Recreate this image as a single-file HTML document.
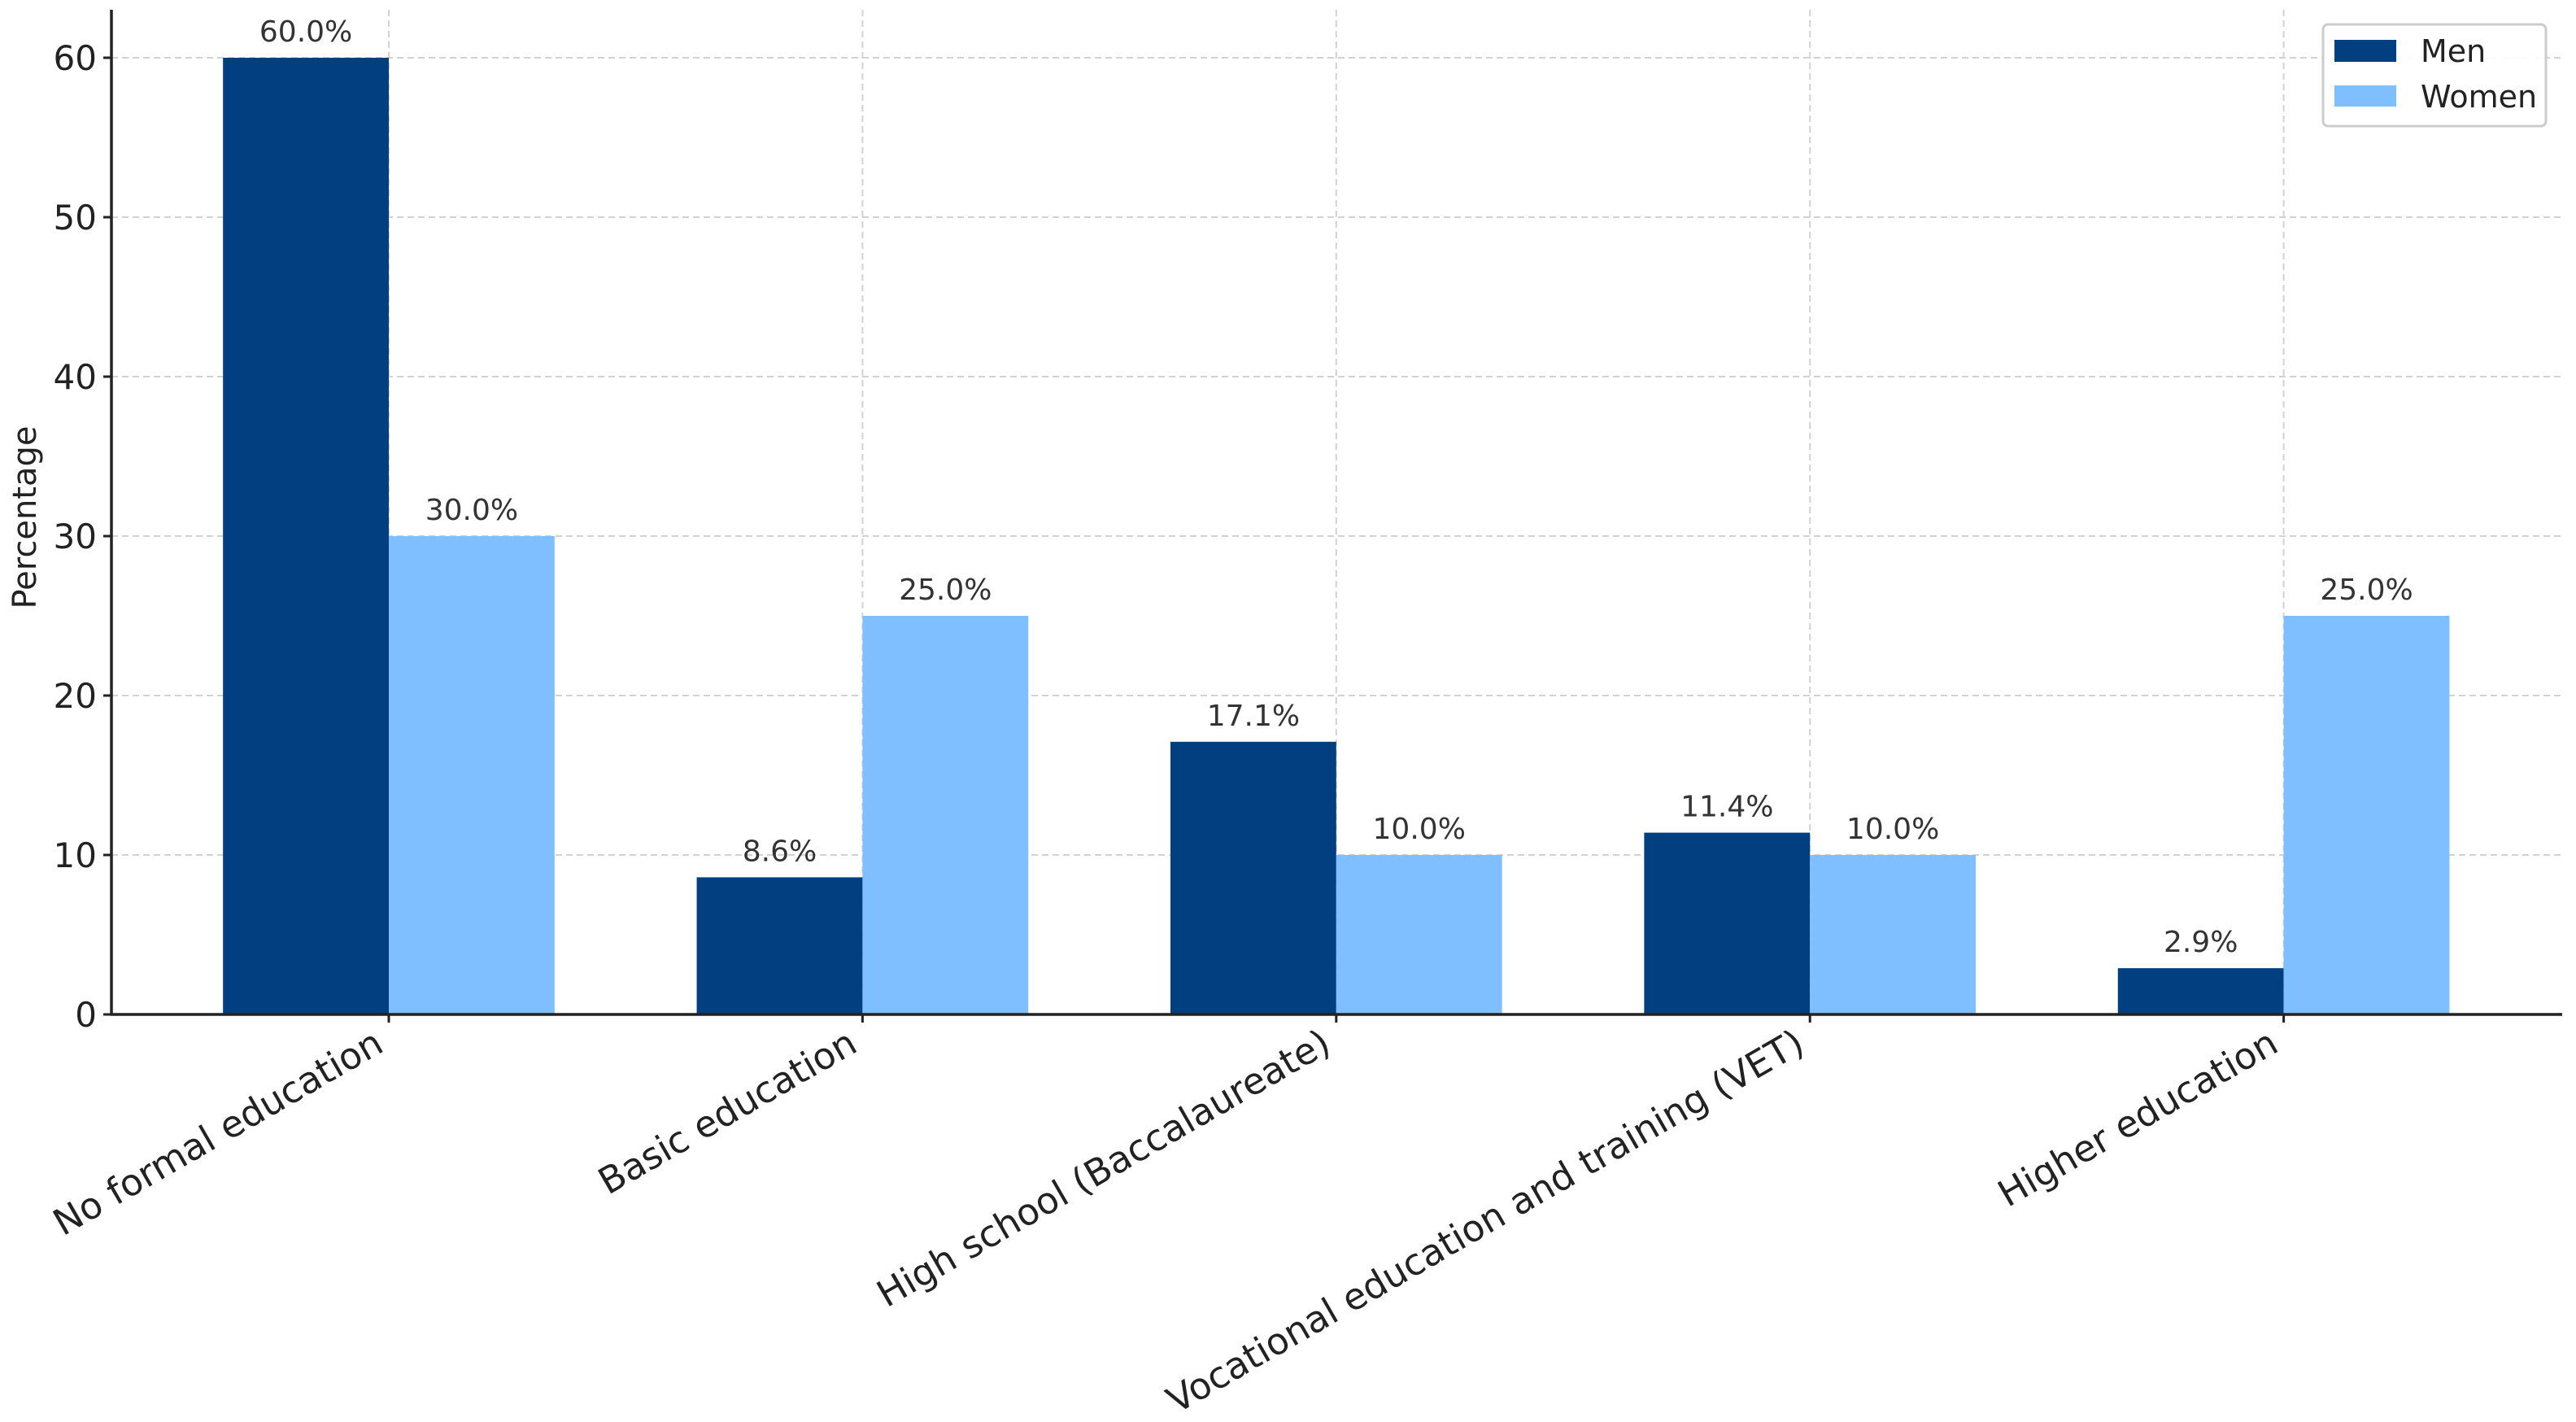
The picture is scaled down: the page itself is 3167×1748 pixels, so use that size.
<!DOCTYPE html>
<html><head><meta charset="utf-8"><style>
html,body{margin:0;padding:0;background:#fff;}
svg{display:block;font-family:"DejaVu Sans","Liberation Sans",sans-serif;}
</style></head><body>
<svg id="chart" width="3167" height="1748" viewBox="0 0 3167 1748" xmlns="http://www.w3.org/2000/svg">
<g id="grid"></g>
<g id="bars"></g>
<g id="axes"></g>
<text x="0" y="0" transform="translate(44,636) rotate(-90)" text-anchor="middle" font-size="40" fill="#222">Percentage</text>
<g>
<rect x="2856" y="30" width="274" height="125" rx="6" fill="#fff" fill-opacity="0.9" stroke="#ccc" stroke-width="3"/>
<rect x="2870" y="49" width="76" height="27" fill="#013f80"/>
<text x="2976" y="76" font-size="38" fill="#222">Men</text>
<rect x="2870" y="105" width="76" height="26" fill="#80bfff"/>
<text x="2976" y="132" font-size="38" fill="#222">Women</text>
</g>
</svg>
<script>
const categories = ["No formal education","Basic education","High school (Baccalaureate)","Vocational education and training (VET)","Higher education"];
const men = [60.0, 8.6, 17.1, 11.4, 2.9];
const women = [30.0, 25.0, 10.0, 10.0, 25.0];
const yTicks = [0,10,20,30,40,50,60];

const NS = "http://www.w3.org/2000/svg";
const x0 = 478, step = 582.4, barW = 0.35*step;
const axisLeft = 137, axisRight = 3150, yZero = 1247, pxPerUnit = 19.6;
const X = i => x0 + i*step;
const Y = v => yZero - v*pxPerUnit;
function mk(tag, attrs, parent){ const e=document.createElementNS(NS,tag); for(const k in attrs) e.setAttribute(k,attrs[k]); parent.appendChild(e); return e; }
const grid=document.getElementById('grid'), bars=document.getElementById('bars'), axes=document.getElementById('axes');

yTicks.forEach(t=>{
  if(t>0){ const l=mk('line',{x1:axisLeft,x2:axisRight,y1:Y(t),y2:Y(t),stroke:'#d2d2d2','stroke-width':2,'stroke-dasharray':'8,5'},grid);
    }
  const tk=mk('line',{x1:axisLeft-10,x2:axisLeft,y1:Y(t),y2:Y(t),stroke:'#222','stroke-width':3},axes);
   
  const tx=mk('text',{x:axisLeft-18,y:Y(t)+15,'text-anchor':'end','font-size':42,fill:'#222'},axes);
  tx.textContent=t;
   
});
categories.forEach((c,i)=>{
  const g=mk('line',{x1:X(i),x2:X(i),y1:12,y2:yZero,stroke:'#d2d2d2','stroke-width':2,'stroke-dasharray':'8,5'},grid);
   
  const bm=mk('rect',{x:X(i)-barW,y:Y(men[i]),width:barW,height:yZero-Y(men[i]),fill:'#013f80'},bars);
   
  const bw=mk('rect',{x:X(i),y:Y(women[i]),width:barW,height:yZero-Y(women[i]),fill:'#80bfff'},bars);
   
  const lm=mk('text',{x:X(i)-barW/2,y:Y(men[i])-20,'text-anchor':'middle','font-size':36,fill:'#333'},bars);
  lm.textContent=men[i].toFixed(1)+'%';
   
  const lw=mk('text',{x:X(i)+barW/2,y:Y(women[i])-20,'text-anchor':'middle','font-size':36,fill:'#333'},bars);
  lw.textContent=women[i].toFixed(1)+'%';
   
  const xt=mk('line',{x1:X(i),x2:X(i),y1:yZero,y2:yZero+10,stroke:'#222','stroke-width':3},axes);
   
  const xl=mk('text',{x:0,y:0,transform:`translate(${X(i)-4},${yZero+44}) rotate(-30)`,'text-anchor':'end','font-size':45,fill:'#222'},axes);
  xl.textContent=c;
   
});
const ya=mk('line',{x1:axisLeft,x2:axisLeft,y1:12,y2:yZero+1.5,stroke:'#222','stroke-width':3.5},axes);
 
const xa=mk('line',{x1:axisLeft-1.5,x2:axisRight,y1:yZero,y2:yZero,stroke:'#222','stroke-width':3.5},axes);
 
</script>
</body></html>
